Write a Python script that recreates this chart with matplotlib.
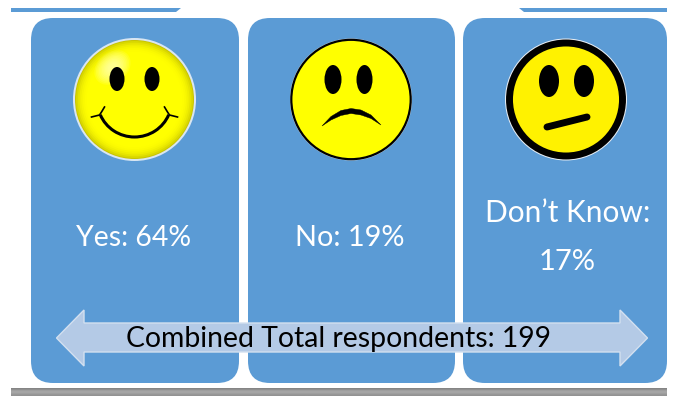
import numpy as np
import matplotlib
matplotlib.use("Agg")
import matplotlib.pyplot as plt
from matplotlib.patches import FancyBboxPatch, Circle, Ellipse, Polygon, Arc

answers = ["Yes", "No", "Don\u2019t Know"]
percents = [64, 19, 17]
total_label = "Combined Total respondents"
total = 199

BLUE = "#5B9BD5"
fig = plt.figure(figsize=(6.8, 4.05), dpi=100)
ax = fig.add_axes([0, 0, 1, 1])
ax.axis("off")
plt.rcParams["font.family"] = "Lato"

# top stubs and grey base
ax.add_patch(Polygon([(11, 8), (181, 8), (176, 12), (11, 12)], fc=BLUE, ec="none"))
ax.add_patch(Polygon([(519, 8), (667, 8), (667, 12), (524, 12)], fc=BLUE, ec="none"))
ax.imshow(np.array([[0.52], [0.62], [0.66], [0.62], [0.58]]), cmap="gray", vmin=0, vmax=1,
          extent=(11, 667, 396.5, 389), aspect="auto", zorder=1)
ax.set_xlim(0, 680); ax.set_ylim(405, 0)

panels = [(31, 239), (248, 455), (463, 667)]
centers = [134.5, 351, 566]
R = 22
for (x0, x1) in panels:
    ax.add_patch(FancyBboxPatch((x0 + R, 18 + R), x1 - x0 - 2 * R, 365 - 2 * R,
                                boxstyle=f"round,pad={R},rounding_size={R}",
                                fc=BLUE, ec="none", zorder=2))

cy = 99.5
# happy face
cx = centers[0]
ax.add_patch(Circle((cx, cy), 61.5, fc="#D9E6F2", ec="none", zorder=3))
ax.add_patch(Circle((cx, cy), 59.5, fc="#C9C400", ec="none", zorder=3))
for r, c in zip(np.linspace(58.5, 48, 7),
                ["#D9D800", "#E6E400", "#EFEE00", "#F6F500", "#FBFA00", "#FEFD00", "#FFFF00"]):
    ax.add_patch(Circle((cx, cy), r, fc=c, ec="none", zorder=3))
for s in np.linspace(1, 0.25, 10):
    ax.add_patch(Ellipse((cx - 22, cy - 32), 40 * s, 30 * s, angle=-40, fc="#FFFFC8",
                         ec="none", alpha=0.12, zorder=3))
ax.add_patch(Ellipse((cx - 17.5, 79), 15, 24, fc="black", ec="none", zorder=4))
ax.add_patch(Ellipse((cx + 17.5, 79), 15, 24, fc="black", ec="none", zorder=4))
ax.add_patch(Arc((cx, 101), 74, 72, theta1=22, theta2=158, ec="black", lw=2.2, zorder=4))
ax.plot([cx - 43, cx - 35, cx - 33, cx - 30], [117, 115, 112, 107], color="black", lw=1.2, zorder=4)
ax.plot([cx + 43, cx + 35, cx + 33, cx + 30], [117, 115, 112, 107], color="black", lw=1.2, zorder=4)

# sad face
cx = centers[1]
ax.add_patch(Circle((cx, cy), 61, fc="#E8EEF5", ec="none", zorder=3))
ax.add_patch(Circle((cx, cy), 59.7, fc="yellow", ec="black", lw=1.6, zorder=3))
ax.add_patch(Ellipse((cx - 18, 79.5), 17, 29, fc="black", ec="none", zorder=4))
ax.add_patch(Ellipse((cx + 13.5, 79.5), 16, 29, fc="black", ec="none", zorder=4))
xs = np.array([-29, -20, -10, 0, 10, 20, 30])
ys = np.array([126, 116.5, 110.5, 108.5, 110, 115, 125])
ax.fill(np.r_[cx + xs, (cx + xs)[::-1]], np.r_[ys, (ys + np.array([0, 3.5, 5, 5, 5, 3.5, 0]))[::-1]],
        fc="black", ec="black", lw=0.3, zorder=4)

# neutral face
cx = centers[2]
ax.add_patch(Circle((cx, cy), 61, fc="#E8EEF5", ec="none", zorder=3))
ax.add_patch(Circle((cx, cy), 56.5, fc="#FFF200", ec="black", lw=5.0, zorder=3))
ax.add_patch(Ellipse((cx - 17, 81), 20, 32, fc="black", ec="none", zorder=4))
ax.add_patch(Ellipse((cx + 18, 81), 20, 32, fc="black", ec="none", zorder=4))
ax.plot([cx - 19, cx + 21], [127, 117], color="black", lw=5, solid_capstyle="round", zorder=4)

# labels
text_kw = dict(color="white", ha="center", va="center", zorder=5, family="Lato")
ax.text(centers[0] - 1, 237.5, f"{answers[0]}: {percents[0]}%", fontsize=20.4, **text_kw)
ax.text(centers[1] - 1, 237.5, f"{answers[1]}: {percents[1]}%", fontsize=20.8, **text_kw)
ax.text(centers[2] + 1.5, 213.5, f"{answers[2]}:", fontsize=21.5, **text_kw)
ax.text(centers[2] + 1, 262.5, f"{percents[2]}%", fontsize=21, **text_kw)

# double arrow
arrow = [(56.5, 338), (84, 310), (84, 323), (620, 323), (620, 310), (647.5, 338),
         (620, 366), (620, 352), (84, 352), (84, 366)]
ax.add_patch(Polygon(arrow, closed=True, fc="#B4CAE6", ec="#D3E0F0", lw=1, zorder=6))
ax.text(339, 338.5, f"{total_label}: {total}", color="black", fontsize=20.4, ha="center",
        va="center", zorder=7, family="Lato")

fig.savefig("out.png", dpi=100, facecolor="white")
